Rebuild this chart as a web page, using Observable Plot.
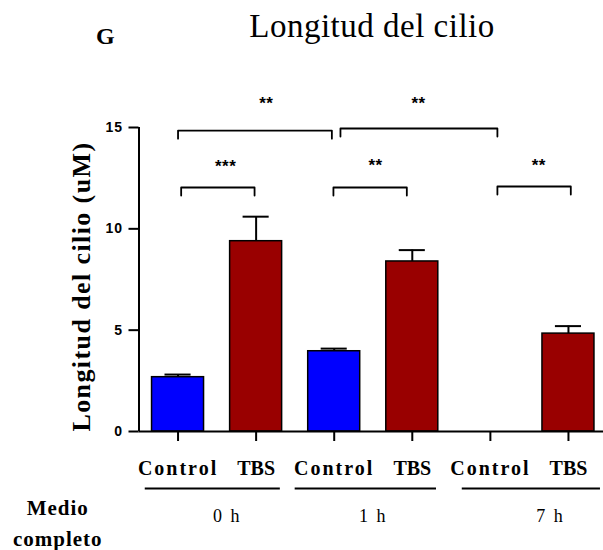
<!DOCTYPE html>
<html>
<head>
<meta charset="utf-8">
<script src="https://cdn.jsdelivr.net/npm/d3@7"></script>
<script src="https://cdn.jsdelivr.net/npm/@observablehq/plot@0.6"></script>
<style>
  html, body { margin: 0; padding: 0; background: #fff; overflow: hidden; }
  #wrap { position: relative; width: 603px; height: 550px; }
  #panel { position: absolute; left: 96px; top: 24px; font: bold 24px "Liberation Serif", serif; line-height: 1; }
  #title { position: absolute; left: 372px; top: 10px; transform: translateX(-50%); white-space: nowrap;
           font: 33px "Liberation Serif", serif; line-height: 1; letter-spacing: 0.5px; }
  #chart { position: absolute; left: 0; top: 0; }
</style>
</head>
<body>
<div id="wrap">
  <div id="chart"></div>
  <div id="panel">G</div>
  <div id="title">Longitud del cilio</div>
</div>
<script>
// ---- data ----
const categories = ["Control", "TBS", "Control", "TBS", "Control", "TBS"];
const timeGroups = ["0 h", "1 h", "7 h"];
const means = [2.68, 9.39, 3.96, 8.39, null, 4.83];
const sems  = [0.13, 1.21, 0.13, 0.56, null, 0.37];
const yTicks = [0, 5, 10, 15];
const yLabel = "Longitud del cilio (uM)";
const sideLabel = "Medio\ncompleto";

// significance brackets
const bracketX1 = [0.00, 2.08, 0.04, 1.99, 4.09];
const bracketX2 = [1.97, 4.09, 0.98, 2.93, 5.03];
const bracketY  = [14.85, 14.95, 12.04, 12.04, 12.09];
const bracketText = ["**", "**", "***", "**", "**"];
const starX = [1.13, 3.08, 0.61, 2.53, 4.62];
const starY = [16.2, 16.2, 13.06, 13.1, 13.12];

// group underlines and labels
const groupX1 = [-0.42, 1.50, 3.64];
const groupX2 = [1.31, 3.31, 5.41];
const groupLabelX = [0.63, 2.50, 4.77];

// ---- tables built from the arrays ----
const bars = categories.map((c, i) => ({i, c, t: timeGroups[Math.floor(i / 2)], m: means[i], s: sems[i]}))
  .filter(d => d.m != null);
const barHalf = 0.333, capHalf = 0.167, leg = 0.4;
const bracketPts = bracketX1.flatMap((x1, k) => {
  const x2 = bracketX2[k], y = bracketY[k];
  return [{k, x: x1, y: y - leg}, {k, x: x1, y}, {k, x: x2, y}, {k, x: x2, y: y - leg}];
});
const stars = bracketText.map((t, k) => ({t, x: starX[k], y: starY[k]}));
const groups = timeGroups.map((g, k) => ({g, x1: groupX1[k], x2: groupX2[k], lx: groupLabelX[k]}));

const serif = "Liberation Serif, Times New Roman, serif";
const sans = "Liberation Sans, Arial, sans-serif";

const chart = Plot.plot({
  width: 603,
  height: 550,
  marginTop: 127,
  marginBottom: 119,
  marginLeft: 138.5,
  marginRight: 0,
  style: {background: "white", overflow: "visible", fontFamily: serif},
  x: {domain: [-0.5, 5.5], range: [138.5, 607]},
  y: {domain: [0, 15]},
  color: {domain: ["Control", "TBS"], range: ["#0000ff", "#990000"]},
  marks: [
    // bars
    Plot.rectY(bars, {x1: d => d.i - barHalf, x2: d => d.i + barHalf, y1: 0, y2: "m", fill: "c", stroke: "black", strokeWidth: 1.5}),
    // error bars (upper)
    Plot.ruleX(bars, {x: "i", y1: "m", y2: d => d.m + d.s, stroke: "black", strokeWidth: 2}),
    Plot.ruleY(bars, {y: d => d.m + d.s, x1: d => d.i - capHalf, x2: d => d.i + capHalf, stroke: "black", strokeWidth: 2}),
    // axes lines
    Plot.ruleY([0], {x1: -0.5, x2: 5.5, stroke: "black", strokeWidth: 2}),
    Plot.ruleX([-0.5], {y1: 0, y2: 15, stroke: "black", strokeWidth: 2}),
    Plot.axisY({ticks: yTicks, tickSize: 10, tickPadding: 6, strokeWidth: 2, fontFamily: sans, fontWeight: "bold", fontSize: 14, label: null}),
    Plot.axisX({ticks: d3.range(categories.length), tickFormat: i => categories[i], tickSize: 10, tickPadding: 19, strokeWidth: 2,
                fontFamily: serif, fontWeight: "bold", fontSize: 20, label: null}),
    // y label
    Plot.text([yLabel], {frameAnchor: "left", textAnchor: "middle", rotate: -90, dx: -57, dy: 7, fontFamily: serif, fontWeight: "bold", fontSize: 26}),
    // significance brackets
    Plot.line(bracketPts, {x: "x", y: "y", z: "k", stroke: "black", strokeWidth: 1.8, curve: "linear"}),
    Plot.text(stars, {x: "x", y: "y", text: "t", fontFamily: sans, fontWeight: "bold", fontSize: 17}),
    // group underlines & labels
    Plot.ruleY(groups, {y: -2.81, x1: "x1", x2: "x2", stroke: "black", strokeWidth: 2}),
    Plot.text(groups, {x: "lx", y: -4.19, text: "g", fontFamily: serif, fontSize: 18}),
    Plot.text([sideLabel], {x: -1.54, y: -4.4, lineHeight: 1.45, fontFamily: serif, fontWeight: "bold", fontSize: 21})
  ]
});

// letter spacing to mimic the stretched lettering of the original
d3.select(chart).selectAll("text").each(function() {
  const t = this.textContent;
  const s = d3.select(this);
  if (t === "Control") s.style("letter-spacing", "2px");
  else if (t === "TBS") s.style("letter-spacing", "0px");
  else if (t === yLabel) s.style("letter-spacing", "1.4px");
  else if (t.startsWith("Medio")) s.style("letter-spacing", "1px");
  else if (timeGroups.includes(t)) s.style("letter-spacing", "2px");
  else if (/^\d+$/.test(t)) s.style("letter-spacing", "1px");
  else if (/^\*+$/.test(t)) s.style("letter-spacing", "0.5px");
});

document.getElementById("chart").appendChild(chart);
</script>
</body>
</html>
